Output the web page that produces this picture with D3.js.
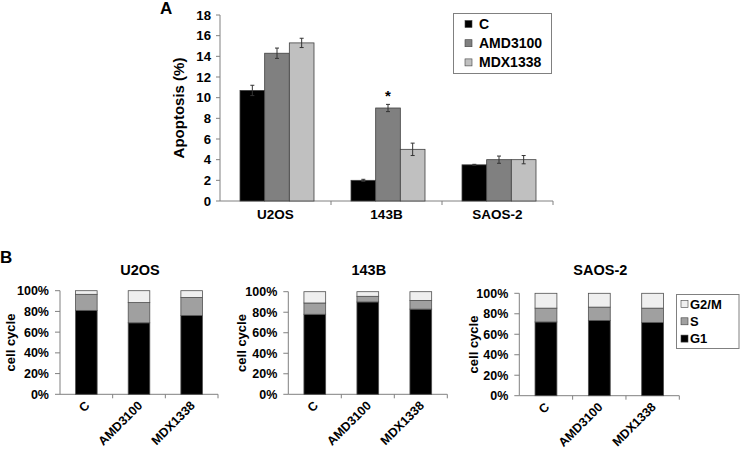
<!DOCTYPE html>
<html><head><meta charset="utf-8">
<script src="https://cdn.jsdelivr.net/npm/d3@7"></script>
<style>body{margin:0;background:#fff}svg{display:block;font-family:"Liberation Sans",Arial,sans-serif;font-weight:bold}</style>
</head><body><svg id="c" width="740" height="449"></svg>
<script>
// Panel A data
const cellLines = ["U2OS", "143B", "SAOS-2"];
const treatments = ["C", "AMD3100", "MDX1338"];
const apoptosisC = [10.7, 2.0, 3.5];
const apoptosisAMD = [14.3, 9.0, 4.0];
const apoptosisMDX = [15.3, 5.0, 4.0];
const errC = [0.5, 0.1, 0.05];
const errAMD = [0.5, 0.35, 0.35];
const errMDX = [0.45, 0.6, 0.4];
const yTicksA = [0, 2, 4, 6, 8, 10, 12, 14, 16, 18];
// Panel B data (fractions)
const phases = ["G1", "S", "G2/M"];
const g1U2OS = [0.81, 0.69, 0.76];
const sU2OS = [0.155, 0.195, 0.175];
const g1143B = [0.78, 0.90, 0.83];
const s143B = [0.11, 0.055, 0.085];
const g1SAOS = [0.72, 0.735, 0.715];
const sSAOS = [0.135, 0.13, 0.14];
const yTicksB = [0, 0.2, 0.4, 0.6, 0.8, 1.0];

const svg = d3.select("#c");
const colA = {C: "#000000", AMD3100: "#808080", MDX1338: "#c0c0c0"};
const colB = {G1: "#000000", S: "#a0a0a0", "G2/M": "#efefef"};
const axisCol = "#808080";

// ---------- Panel A ----------
const xA = d3.scaleBand().domain(cellLines).range([220, 553]);
const xIn = d3.scaleBand().domain(treatments).range([20, 94]);
const yA = d3.scaleLinear().domain([0, 18]).range([201, 15]);
const valsA = {C: apoptosisC, AMD3100: apoptosisAMD, MDX1338: apoptosisMDX};
const errsA = {C: errC, AMD3100: errAMD, MDX1338: errMDX};

const gA = svg.append("g");
gA.append("line").attr("x1", 220).attr("x2", 220).attr("y1", yA(18)).attr("y2", yA(0)).attr("stroke", axisCol);
yTicksA.forEach(t => {
  gA.append("line").attr("x1", 216).attr("x2", 220).attr("y1", yA(t)).attr("y2", yA(t)).attr("stroke", axisCol);
  gA.append("text").attr("x", 211).attr("y", yA(t)).attr("dy", "0.35em").attr("text-anchor", "end").attr("font-size", 13.2).text(t);
});
gA.append("line").attr("x1", 220).attr("x2", 553).attr("y1", yA(0)).attr("y2", yA(0)).attr("stroke", axisCol);
cellLines.forEach((c, i) => {
  const x = xA(c) + xA.bandwidth();
  gA.append("line").attr("x1", x).attr("x2", x).attr("y1", yA(0)).attr("y2", yA(0) + 4).attr("stroke", axisCol);
  gA.append("text").attr("x", xA(c) + xA.bandwidth() / 2).attr("y", 219).attr("text-anchor", "middle").attr("font-size", 13.5).text(c);
});
treatments.forEach(t => {
  cellLines.forEach((c, i) => {
    const v = valsA[t][i], e = errsA[t][i];
    const x = xA(c) + xIn(t);
    gA.append("rect").attr("x", x).attr("y", yA(v)).attr("width", xIn.bandwidth()).attr("height", yA(0) - yA(v))
      .attr("fill", colA[t]).attr("stroke", "#404040").attr("stroke-width", 0.8);
    const cx = x + xIn.bandwidth() / 2;
    gA.append("line").attr("x1", cx).attr("x2", cx).attr("y1", yA(v + e)).attr("y2", yA(v - e)).attr("stroke", "#333").attr("stroke-width", 1);
    [v + e, v - e].forEach(w => gA.append("line").attr("x1", cx - 2).attr("x2", cx + 2).attr("y1", yA(w)).attr("y2", yA(w)).attr("stroke", "#333"));
  });
});
gA.append("text").attr("x", xA("143B") + xIn("AMD3100") + xIn.bandwidth() / 2).attr("y", yA(apoptosisAMD[1] + errAMD[1]) - 3)
  .attr("text-anchor", "middle").attr("font-size", 15).text("*");
gA.append("text").attr("transform", `translate(184,${(yA(0) + yA(18)) / 2}) rotate(-90)`).attr("text-anchor", "middle").attr("font-size", 15).text("Apoptosis (%)");
svg.append("text").attr("x", 160).attr("y", 14).attr("font-size", 17).text("A");
const lgA = svg.append("g");
lgA.append("rect").attr("x", 453.5).attr("y", 13.5).attr("width", 98).attr("height", 60).attr("fill", "#fff").attr("stroke", "#808080");
treatments.forEach((t, i) => {
  const y = 24 + i * 19.2;
  lgA.append("rect").attr("x", 465).attr("y", y - 3.5).attr("width", 7).attr("height", 7).attr("fill", colA[t]).attr("stroke", "#404040").attr("stroke-width", 0.6);
  lgA.append("text").attr("x", 479).attr("y", y).attr("dy", "0.35em").attr("font-size", 14).text(t);
});

// ---------- Panel B ----------
svg.append("text").attr("x", 0).attr("y", 263).attr("font-size", 17).text("B");
const subs = [
  {name: "U2OS", g1: g1U2OS, s: sU2OS, x0: 60, x1: 218, yTop: 290.7, yBot: 394.3, labX: 15},
  {name: "143B", g1: g1143B, s: s143B, x0: 288.3, x1: 447.3, yTop: 291.7, yBot: 394.3, labX: 246},
  {name: "SAOS-2", g1: g1SAOS, s: sSAOS, x0: 519.3, x1: 679.3, yTop: 293.3, yBot: 395.7, labX: 478}
];
subs.forEach(sp => {
  const g = svg.append("g");
  const x = d3.scaleBand().domain(treatments).range([sp.x0, sp.x1]).paddingInner(0);
  const y = d3.scaleLinear().domain([0, 1]).range([sp.yBot, sp.yTop]);
  const bw = x.bandwidth() * 0.41;
  g.append("line").attr("x1", sp.x0).attr("x2", sp.x0).attr("y1", y(1)).attr("y2", y(0)).attr("stroke", axisCol);
  yTicksB.forEach(t => {
    g.append("line").attr("x1", sp.x0 - 5).attr("x2", sp.x0).attr("y1", y(t)).attr("y2", y(t)).attr("stroke", axisCol);
    g.append("text").attr("x", sp.x0 - 11).attr("y", y(t)).attr("dy", "0.35em").attr("text-anchor", "end").attr("font-size", 12.5).text(d3.format(".0%")(t));
  });
  g.append("line").attr("x1", sp.x0).attr("x2", sp.x1).attr("y1", y(0)).attr("y2", y(0)).attr("stroke", axisCol);
  treatments.forEach((t, i) => {
    const xe = x(t) + x.bandwidth();
    g.append("line").attr("x1", xe).attr("x2", xe).attr("y1", y(0)).attr("y2", y(0) + 4).attr("stroke", axisCol);
    const cx = x(t) + x.bandwidth() / 2;
    const g1 = sp.g1[i], s = sp.s[i];
    const segs = [["G1", 0, g1], ["S", g1, g1 + s], ["G2/M", g1 + s, 1]];
    segs.forEach(([p, a, b]) => {
      g.append("rect").attr("x", cx - bw / 2).attr("y", y(b)).attr("width", bw).attr("height", y(a) - y(b))
        .attr("fill", colB[p]).attr("stroke", "#505050").attr("stroke-width", 0.8);
    });
    g.append("text").attr("transform", `translate(${cx + 1},${y(0) + 9}) rotate(-45)`).attr("text-anchor", "end")
      .attr("dy", "0.35em").attr("font-size", 12.5).text(t);
  });
  g.append("text").attr("x", (sp.x0 + sp.x1) / 2 + 1).attr("y", 275).attr("text-anchor", "middle").attr("font-size", 14.5).text(sp.name);
  g.append("text").attr("transform", `translate(${sp.labX},${(y(0) + y(1)) / 2}) rotate(-90)`).attr("text-anchor", "middle").attr("font-size", 13).text("cell cycle");
});
const lgB = svg.append("g");
lgB.append("rect").attr("x", 676.5).attr("y", 294.5).attr("width", 62.5).attr("height", 54).attr("fill", "#fff").attr("stroke", "#808080");
["G2/M", "S", "G1"].forEach((p, i) => {
  const y = 304 + i * 17.3;
  lgB.append("rect").attr("x", 681).attr("y", y - 3.5).attr("width", 7).attr("height", 7).attr("fill", colB[p]).attr("stroke", "#404040").attr("stroke-width", 0.6);
  lgB.append("text").attr("x", 690).attr("y", y).attr("dy", "0.35em").attr("font-size", 13).text(p);
});
</script></body></html>
